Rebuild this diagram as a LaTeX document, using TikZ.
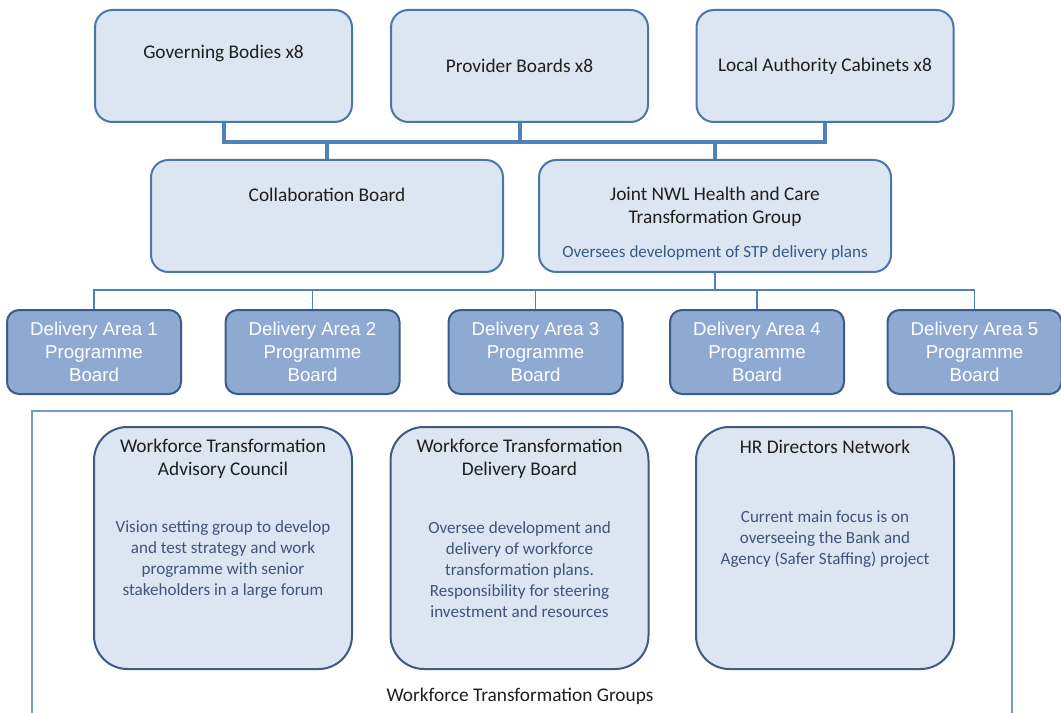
\documentclass[tikz,border=0pt]{standalone}
\usepackage{fontspec}
\setmainfont{Carlito}
\newfontfamily\arialfont{Liberation Sans}
\definecolor{boxfill}{HTML}{DCE6F2}
\definecolor{boxline}{HTML}{4A76AE}
\definecolor{areafill}{HTML}{8EAAD3}
\definecolor{arealine}{HTML}{3B5B88}
\definecolor{groupline}{HTML}{3E5A80}
\definecolor{linkblue}{HTML}{4F81BD}
\definecolor{bodytext}{HTML}{3F5478}
\definecolor{titletext}{HTML}{1E1E1E}

\begin{document}
\begin{tikzpicture}[x=0.75pt,y=-0.75pt,
  board/.style={draw=boxline,line width=1.5pt,fill=boxfill,rounded corners=13pt,minimum width=192.75pt,minimum height=84pt},
  wideboard/.style={board,minimum width=264pt},
  area/.style={draw=arealine,line width=1.5pt,fill=areafill,rounded corners=9pt,minimum width=130.5pt,minimum height=63pt,text=white,font=\arialfont\fontsize{14}{17.25}\selectfont,align=center},
  group/.style={draw=groupline,line width=1.5pt,fill=boxfill,rounded corners=25pt,minimum width=193.5pt,minimum height=181.5pt},
  title/.style={text=titletext,font=\fontsize{14.5}{17.25}\selectfont,align=center},
  body/.style={text=bodytext,font=\fontsize{12.8}{15.75}\selectfont,align=center},
  bus/.style={draw=linkblue,line width=3pt},
  link/.style={draw=linkblue,line width=1.4pt}]
  \useasboundingbox (0,0) rectangle (1061,713);
  % Top level boards
  \node[board] (gov) at (223.5,66) {};
  \node[board] (prov) at (519.5,66) {};
  \node[board] (local) at (825,66) {};
  \node[title] at (223.5,53) {Governing Bodies x8};
  \node[title] at (519.5,66) {Provider Boards x8};
  \node[title] at (825,66) {Local Authority Cabinets x8};
  % Second level
  \node[wideboard] (collab) at (327,216) {};
  \node[wideboard] (joint) at (715,216) {};
  \node[title] at (327,195) {Collaboration Board};
  \node[title] at (715,207) {Joint NWL Health and Care\\Transformation Group};
  \node[body, text=linkblue!70!black, font=\fontsize{12.8}{14}\selectfont] at (715,253) {Oversees development of STP delivery plans};
  % Thick bus between the two levels
  \coordinate (bus) at (0,142);
  \draw[bus] (gov.south) -- (gov.south |- bus) -- (local.south |- bus) -- (local.south);
  \draw[bus] (prov.south) -- (prov.south |- bus);
  \draw[bus] (collab.north) -- (collab.north |- bus);
  \draw[bus] (joint.north) -- (joint.north |- bus);
  % Delivery area boards
  \foreach \n/\x in {1/94,2/312.5,3/535.5,4/757,5/974.5}
    \node[area] (da\n) at (\x,352) {Delivery Area \n\\Programme\\Board};
  % Thin tree down to the delivery areas
  \coordinate (tree) at (0,290);
  \draw[link] (joint.south) -- (joint.south |- tree);
  \draw[link] (da1.north) -- (da1.north |- tree) -- (da5.north |- tree) -- (da5.north);
  \foreach \n in {2,3,4}
    \draw[link] (da\n.north) -- (da\n.north |- tree);
  % Frame round the workforce groups (open at the bottom)
  \draw[draw=linkblue!80, line width=1.2pt] (32,713) -- (32,411) -- (1012,411) -- (1012,713);
  % Workforce transformation groups
  \node[group] (council) at (223,548) {};
  \node[group] (delivery) at (519.5,548) {};
  \node[group] (hr) at (825,548) {};
  \node[title] at (223,458.5) {Workforce Transformation\\Advisory Council};
  \node[title] at (519.5,458.5) {Workforce Transformation\\Delivery Board};
  \node[title] at (825,447) {HR Directors Network};
  \node[body] at (223,559.5) {Vision setting group to develop\\and test strategy and work\\programme with senior\\stakeholders in a large forum};
  \node[body] at (519.5,569.5) {Oversee development and\\delivery of workforce\\transformation plans.\\Responsibility for steering\\investment and resources};
  \node[body] at (825,539.5) {Current main focus is on\\overseeing the Bank and\\Agency (Safer Staffing) project};
  \node[title] (groups) at (520,696) {Workforce Transformation Groups};
\end{tikzpicture}
\end{document}
